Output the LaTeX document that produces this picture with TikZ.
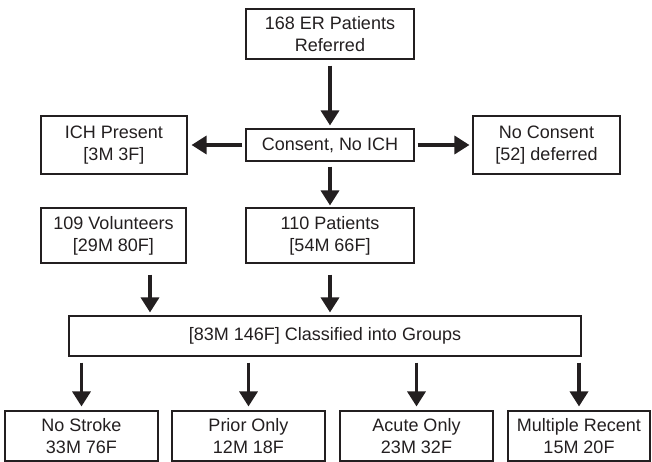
\documentclass[tikz,border=0pt]{standalone}
\usepackage{fontspec}
\setmainfont{Liberation Sans}
\usetikzlibrary{arrows.meta}
\definecolor{flowink}{HTML}{231F20}

\begin{document}
\begin{tikzpicture}[x=1pt,y=-1pt,
  box/.style={draw=flowink, line width=1.1pt, fill=white, inner sep=0pt, align=center,
    text=flowink, font=\fontsize{18}{22}\selectfont},
  flow/.style={draw=flowink, line width=3.4pt, -{Triangle[length=15pt,width=18pt]}}]
\useasboundingbox (0,0) rectangle (652,462);

\node[box, minimum width=168pt, minimum height=50pt] (referred) at (330,34) {168 ER Patients\\Referred};
\node[box, minimum width=168pt, minimum height=32pt] (consent) at (330,145) {Consent, No ICH};
\node[box, minimum width=146pt, minimum height=58pt] (ich) at (114,145) {ICH Present\\{[3M 3F]}};
\node[box, minimum width=147pt, minimum height=58pt] (nocons) at (546.5,145) {No Consent\\{[52] deferred}};

\node[box, minimum width=145pt, minimum height=55pt] (vol) at (113.5,235.5) {109 Volunteers\\{[29M 80F]}};
\node[box, minimum width=168pt, minimum height=55pt] (pat) at (330,235.5) {110 Patients\\{[54M 66F]}};
\node[box, minimum width=512pt, minimum height=40pt] (cls) at (325,336) {[83M 146F] Classified into Groups};

\node[box, minimum width=153pt, minimum height=50pt] (nostroke) at (81.5,436) {No Stroke\\33M 76F};
\node[box, minimum width=153pt, minimum height=50pt] (prior) at (248.5,436) {Prior Only\\12M 18F};
\node[box, minimum width=153pt, minimum height=50pt] (acute) at (416.5,436) {Acute Only\\23M 32F};
\node[box, minimum width=142pt, minimum height=50pt] (multi) at (579,436) {Multiple Recent\\15M 20F};

% arrows
\draw[flow] ([yshift=-6pt]referred.south) -- ([yshift=3pt]consent.north);
\draw[flow] ([xshift=-3pt]consent.west) -- ([xshift=4pt]ich.east);
\draw[flow] ([xshift=3pt]consent.east) -- ([xshift=-3pt]nocons.west);
\draw[flow] ([yshift=-5pt]consent.south) -- ([yshift=2pt]pat.north);

\coordinate (volout) at ([xshift=36.5pt]vol.south);
\draw[flow] ([yshift=-11pt]volout) -- ([yshift=3pt]volout |- cls.north);
\draw[flow] ([yshift=-11pt]pat.south) -- ([yshift=3pt]pat.south |- cls.north);

\foreach \grp in {nostroke,prior,acute,multi}
  \draw[flow] ([yshift=-6pt]\grp.north |- cls.south) -- ([yshift=4pt]\grp.north);
\end{tikzpicture}
\end{document}
